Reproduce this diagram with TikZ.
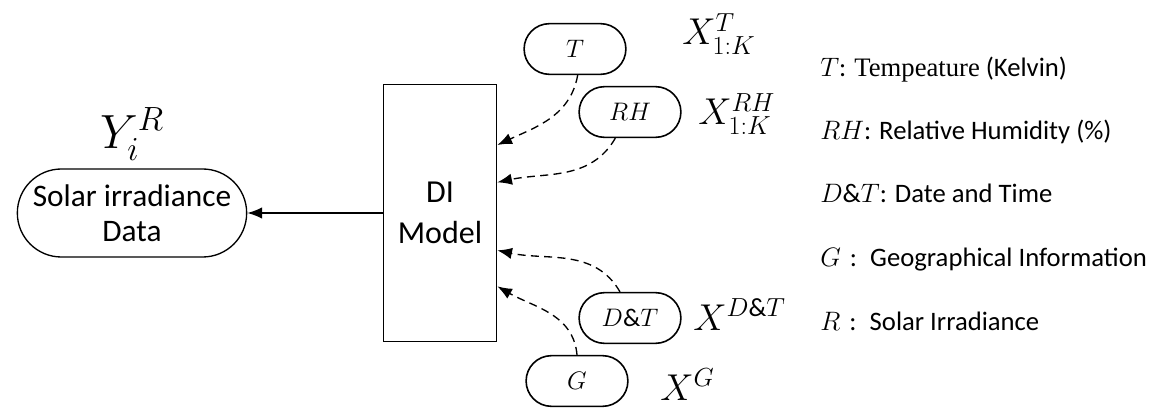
\RequirePackage{fix-cm}
\documentclass[tikz,border=0pt]{standalone}
\usepackage{fontspec}
\setmainfont{Carlito}
\newfontfamily\serifword{Liberation Serif}
\usetikzlibrary{positioning, shapes.misc, arrows.meta}

\begin{document}
\begin{tikzpicture}[
          x=0.75pt, y=0.75pt,
          node distance=6pt,
          block/.style={
              rectangle, draw, line width=1pt, align=center,
              minimum width=85pt, minimum height=193pt,
              font=\fontsize{24}{31}\selectfont
          },
          terminal/.style={
              rounded rectangle, draw, line width=1pt, align=center,
              minimum width=176pt, minimum height=66pt, inner xsep=2pt,
              font=\fontsize{23.5}{26}\selectfont
          },
          input/.style={
              rounded rectangle, draw, line width=1.2pt,
              minimum width=83pt, minimum height=38pt,
              font=\fontsize{19}{21}\selectfont
          },
          varlabel/.style={anchor=base west, inner sep=0pt, font=\fontsize{28}{30}\selectfont},
          legend/.style={anchor=base west, inner sep=0pt, font=\fontsize{20}{22}\selectfont},
          feed/.style={line width=1pt, dash pattern=on 6pt off 4pt, ->},
          >={Latex[length=11pt, width=8.5pt]},
      ]
          \useasboundingbox (0,0) rectangle (1163,407);

          % Model and output
          \node [block] (model) at (440,194) {DI\\Model};
          \node [terminal] (solar) at (132,194) {Solar irradiance\\Data};
          \node [above=6pt of solar, inner sep=0pt, font=\fontsize{36}{38}\selectfont] (yr) {$Y_i^R$};

          % Inputs
          \node [input] (temp) at (575,358) {$T$};
          \node [input] (hum) at (630,295) {$RH$};
          \node [input] (date) at (630,89) {$D\&T$};
          \node [input] (geo) at (577,26) {$G$};

          \node [varlabel] (xt) at (682,362) {$X^{T}_{1{:}K}$};
          \node [varlabel] (xrh) at (698,282) {$X^{RH}_{1{:}K}$};
          \node [varlabel] (xdt) at (693,77) {$X^{D\&T}$};
          \node [varlabel] (xg) at (660,7) {$X^{G}$};

          % Legend
          \node [legend] (lt) at (820,330) {$T$: {\serifword Tempeature} (Kelvin)};
          \node [legend] (lrh) at (820,267) {$RH$: Relative Humidity (\%)};
          \node [legend] (ldt) at (820,204) {$D\&T$: Date and Time};
          \node [legend] (lg) at (820,140) {$G$\,\,:\,\,\,Geographical Information};
          \node [legend] (lr) at (820,77) {$R$\,\,:\,\,\,Solar Irradiance};

          % Arrows
          \draw [line width=1pt, ->] (model.west) -- (solar.east);
          \draw [feed] ([xshift=2pt]temp.south) to[out=-100, in=25] ([yshift=51pt]model.east);
          \draw [feed] ([xshift=-11pt]hum.south) to[out=-120, in=12] ([yshift=23pt]model.east);
          \draw [feed] ([xshift=-7.5pt]date.north) to[out=120, in=-12] ([yshift=-28pt]model.east);
          \draw [feed] (geo.north) to[out=95, in=-30] ([yshift=-55pt]model.east);
        \end{tikzpicture}
\end{document}
